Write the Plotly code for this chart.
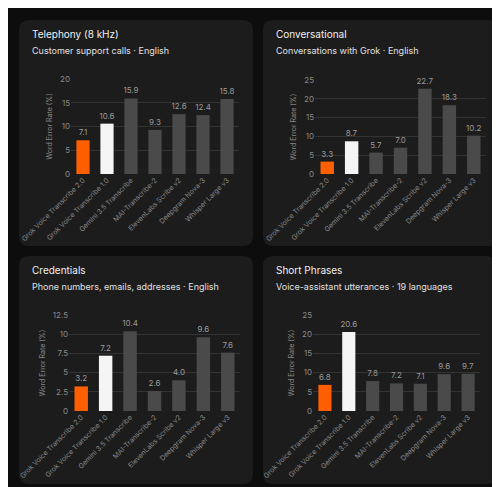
import plotly.graph_objects as go

categories = ["Grok Voice Transcribe 2.0", "Grok Voice Transcribe 1.0", "Gemini 3.5 Transcribe",
              "MAI-Transcribe-2", "ElevenLabs Scribe v2", "Deepgram Nova-3", "Whisper Large v3"]
telephony = [7.1, 10.6, 15.9, 9.3, 12.6, 12.4, 15.8]
conversational = [3.3, 8.7, 5.7, 7.0, 22.7, 18.3, 10.2]
credentials = [3.2, 7.2, 10.4, 2.6, 4.0, 9.6, 7.6]
short_phrases = [6.8, 20.6, 7.8, 7.2, 7.1, 9.6, 9.7]
titles = ["Telephony (8 kHz)", "Conversational", "Credentials", "Short Phrases"]
subtitles = ["Customer support calls · English", "Conversations with Grok · English",
             "Phone numbers, emails, addresses · English", "Voice-assistant utterances · 19 languages"]
yranges = [20, 25, 12.5, 25]
ydticks = [5, 5, 2.5, 5]

W, H = 500, 487
colors = ["#ff5f00", "#f5f5f5"] + ["#4a4a4a"] * 5
series = [telephony, conversational, credentials, short_phrases]
plots = [(63, 231, 71, 166), (307, 478, 72, 166), (61, 232, 307, 403), (305, 472, 307, 403)]
cards = [(11, 12, 245, 238), (255, 12, 490, 238), (11, 248, 245, 476), (255, 248, 488, 476)]

fig = go.Figure()
shapes, annotations = [], []
for i, vals in enumerate(series):
    ax = "" if i == 0 else str(i + 1)
    x0, x1, yt, yb = plots[i]
    fig.add_trace(go.Bar(x=categories, y=vals, marker_color=colors, marker_line_width=0,
                         width=0.55, text=[f"{v:.1f}" for v in vals], textposition="outside",
                         textfont=dict(color="#9a9a9a", size=8), cliponaxis=False,
                         xaxis="x" + ax, yaxis="y" + ax, showlegend=False, hoverinfo="skip"))
    fig.layout["xaxis" + ax] = dict(domain=[x0 / W, x1 / W], anchor="y" + ax, tickangle=-45,
                                    tickfont=dict(size=7, color="#8a8a8a"), showgrid=False,
                                    showline=False, ticks="", automargin=False)
    fig.layout["yaxis" + ax] = dict(domain=[1 - yb / H, 1 - yt / H], anchor="x" + ax,
                                    range=[0, yranges[i]], dtick=ydticks[i], gridcolor="#333333",
                                    gridwidth=0.6, zeroline=False, showline=False, automargin=False,
                                    tickfont=dict(size=8, color="#8a8a8a"),
                                    title=dict(text="Word Error Rate (%)", font=dict(size=7, color="#8a8a8a"),
                                               standoff=6))
    cx0, cy0, cx1, cy1 = cards[i]
    r = 10
    px = lambda v: v / W
    py = lambda v: 1 - v / H
    path = (f"M {px(cx0 + r)},{py(cy0)} L {px(cx1 - r)},{py(cy0)} Q {px(cx1)},{py(cy0)} {px(cx1)},{py(cy0 + r)} "
            f"L {px(cx1)},{py(cy1 - r)} Q {px(cx1)},{py(cy1)} {px(cx1 - r)},{py(cy1)} "
            f"L {px(cx0 + r)},{py(cy1)} Q {px(cx0)},{py(cy1)} {px(cx0)},{py(cy1 - r)} "
            f"L {px(cx0)},{py(cy0 + r)} Q {px(cx0)},{py(cy0)} {px(cx0 + r)},{py(cy0)} Z")
    shapes.append(dict(type="path", path=path, xref="paper", yref="paper", fillcolor="#1c1c1c",
                       line=dict(width=0), layer="below"))
    annotations.append(dict(text=titles[i], x=(cx0 + 11) / W, y=1 - (cy0 + 14) / H, xref="paper", yref="paper",
                            xanchor="left", yanchor="middle", showarrow=False,
                            font=dict(size=10, color="#f0f0f0")))
    annotations.append(dict(text=subtitles[i], x=(cx0 + 11) / W, y=1 - (cy0 + 30) / H, xref="paper", yref="paper",
                            xanchor="left", yanchor="middle", showarrow=False,
                            font=dict(size=9, color="#e0e0e0")))

fig.update_layout(width=W, height=H, margin=dict(l=0, r=0, t=0, b=0, autoexpand=False),
                  paper_bgcolor="#0d0d0d", plot_bgcolor="rgba(0,0,0,0)", font=dict(family="Inter"),
                  shapes=shapes, annotations=annotations, bargap=0.3,
                  uniformtext=dict(minsize=8, mode="show"))
fig.write_html("out.html")
